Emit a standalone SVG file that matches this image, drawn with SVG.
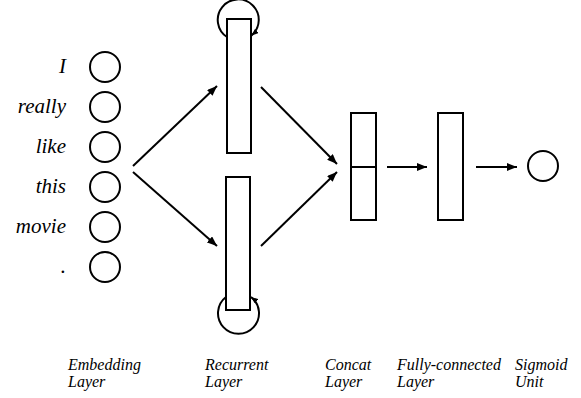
<svg xmlns="http://www.w3.org/2000/svg" width="581" height="398" viewBox="0 0 581 398">
  <style>
    .unit { fill: #fff; stroke: #000; stroke-width: 2; }
    .word { font-family: "Liberation Serif", "Times New Roman", serif; font-style: italic; font-size: 21px; fill: #000; text-anchor: end; }
    .cap { font-family: "Liberation Serif", "Times New Roman", serif; font-style: italic; font-size: 16px; fill: #000; }
    .edge { fill: none; stroke: #000; stroke-width: 2; }
  </style>
  <defs>
    <marker id="head" markerUnits="userSpaceOnUse" viewBox="0 0 10 8" refX="10" refY="4" markerWidth="10" markerHeight="8" orient="auto">
      <path d="M0,0 L10,4 L0,8 z" fill="#000"/>
    </marker>
    <marker id="loophead" markerUnits="userSpaceOnUse" viewBox="0 0 10 8" refX="10" refY="4" markerWidth="7" markerHeight="6" orient="auto">
      <path d="M0,0 L10,4 L0,8 z" fill="#000"/>
    </marker>
  </defs>
  <rect width="581" height="398" fill="#fff"/>

  <!-- input tokens -->
  <g id="tokens">
    <text class="word" x="66" y="73">I</text>
    <text class="word" x="66" y="113">really</text>
    <text class="word" x="66" y="153">like</text>
    <text class="word" x="66" y="193">this</text>
    <text class="word" x="66" y="233">movie</text>
    <text class="word" x="66" y="273">.</text>
  </g>

  <!-- embedding units -->
  <g id="embedding">
    <circle class="unit" cx="105" cy="67" r="15"/>
    <circle class="unit" cx="105" cy="107" r="15"/>
    <circle class="unit" cx="105" cy="147" r="15"/>
    <circle class="unit" cx="105" cy="187" r="15"/>
    <circle class="unit" cx="105" cy="227" r="15"/>
    <circle class="unit" cx="105" cy="267" r="15"/>
  </g>

  <!-- connectors -->
  <g id="connectors">
    <line class="edge" x1="133" y1="166" x2="217" y2="86" marker-end="url(#head)"/>
    <line class="edge" x1="133" y1="172" x2="217" y2="246" marker-end="url(#head)"/>
    <line class="edge" x1="261" y1="87" x2="337" y2="164" marker-end="url(#head)"/>
    <line class="edge" x1="261" y1="246" x2="337" y2="172" marker-end="url(#head)"/>
    <line class="edge" x1="387" y1="167" x2="427" y2="167" marker-end="url(#head)"/>
    <line class="edge" x1="476" y1="167" x2="517" y2="167" marker-end="url(#head)"/>
    <!-- recurrent self-loops -->
    <path class="edge" d="M227,37 A20.5,20.5 0 1 1 251.5,35.5" marker-end="url(#loophead)"/>
    <path class="edge" d="M226,297 A20.5,20.5 0 1 0 251,297" marker-end="url(#loophead)"/>
  </g>

  <!-- recurrent layers -->
  <g id="recurrent-fwd">
    <rect class="unit" x="227" y="19" width="24" height="134"/>
  </g>
  <g id="recurrent-bwd">
    <rect class="unit" x="226" y="177" width="24" height="133"/>
  </g>

  <!-- concat layer -->
  <g id="concat">
    <rect class="unit" x="351" y="113" width="25" height="107"/>
    <line class="edge" x1="351" y1="167" x2="376" y2="167"/>
  </g>

  <!-- fully-connected layer -->
  <g id="dense">
    <rect class="unit" x="438" y="113" width="25" height="107"/>
  </g>

  <!-- sigmoid output -->
  <g id="sigmoid">
    <circle class="unit" cx="543" cy="166" r="15"/>
  </g>

  <!-- layer captions -->
  <g id="captions">
    <text class="cap" x="68" y="370">Embedding</text>
    <text class="cap" x="68" y="387">Layer</text>
    <text class="cap" x="205" y="370">Recurrent</text>
    <text class="cap" x="205" y="387">Layer</text>
    <text class="cap" x="325" y="370">Concat</text>
    <text class="cap" x="325" y="387">Layer</text>
    <text class="cap" x="397" y="370">Fully-connected</text>
    <text class="cap" x="397" y="387">Layer</text>
    <text class="cap" x="515" y="370">Sigmoid</text>
    <text class="cap" x="515" y="387">Unit</text>
  </g>
</svg>
